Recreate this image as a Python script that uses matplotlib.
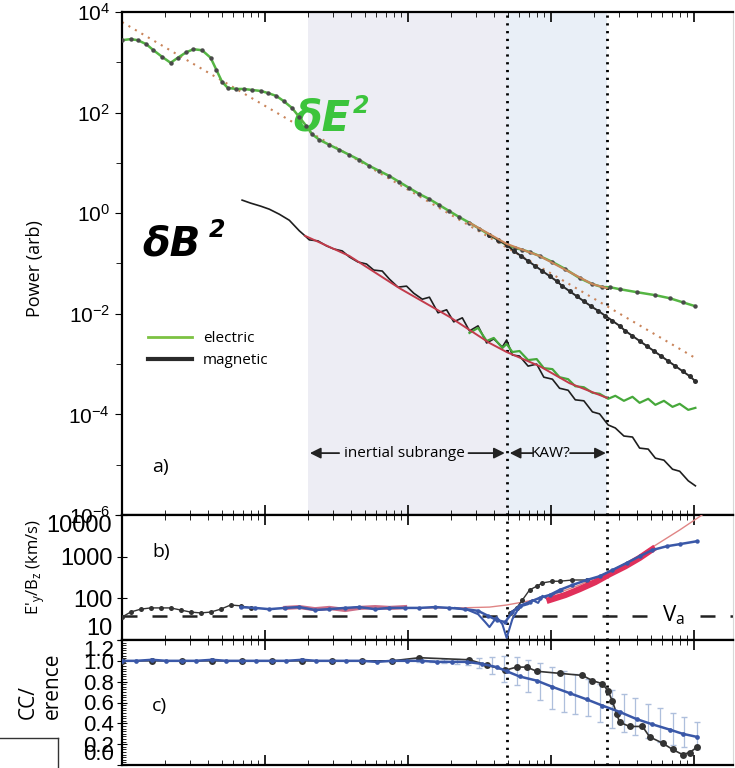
import numpy as np
import matplotlib
matplotlib.use("Agg")
import matplotlib.pyplot as plt
from matplotlib.lines import Line2D
from matplotlib.ticker import FixedLocator, NullFormatter, LogLocator, MultipleLocator

plt.rcParams['font.family'] = ['Liberation Sans', 'DejaVu Sans']

# ---- panel a: log10(frequency Hz), log10(power) ----
e_smooth_lf = [-2.00, -1.94, -1.89, -1.83, -1.78, -1.72, -1.66, -1.61, -1.55, -1.50,
               -1.44, -1.38, -1.34, -1.30, -1.26, -1.20, -1.15, -1.09, -1.03, -0.98,
               -0.92, -0.87, -0.81, -0.76, -0.71, -0.67, -0.62, -0.55, -0.48, -0.41,
               -0.34, -0.27, -0.20, -0.13, -0.06, 0.01, 0.08, 0.15, 0.22, 0.29,
               0.36, 0.43, 0.50, 0.57, 0.64, 0.69, 0.75, 0.80, 0.85, 0.92,
               1.01, 1.10, 1.20, 1.29, 1.36, 1.41, 1.48, 1.60, 1.73, 1.83,
               1.92, 2.01]
e_smooth_lp = [3.44, 3.46, 3.44, 3.36, 3.24, 3.11, 2.99, 3.09, 3.20, 3.26,
               3.24, 3.09, 2.85, 2.61, 2.49, 2.47, 2.47, 2.45, 2.43, 2.39,
               2.33, 2.23, 2.09, 1.91, 1.73, 1.57, 1.46, 1.36, 1.26, 1.16,
               1.06, 0.94, 0.84, 0.74, 0.62, 0.50, 0.38, 0.28, 0.16, 0.04,
               -0.08, -0.19, -0.31, -0.43, -0.55, -0.63, -0.69, -0.73, -0.77, -0.85,
               -0.97, -1.11, -1.29, -1.41, -1.47, -1.47, -1.51, -1.57, -1.63, -1.69,
               -1.77, -1.85]

b_smooth_lf = [0.57, 0.63, 0.69, 0.74, 0.79, 0.84, 0.89, 0.94, 0.99, 1.04,
               1.08, 1.13, 1.18, 1.23, 1.28, 1.33, 1.38, 1.43, 1.48, 1.52,
               1.57, 1.62, 1.67, 1.72, 1.77, 1.82, 1.87, 1.92, 1.97, 2.01]
b_smooth_lp = [-0.43, -0.53, -0.63, -0.75, -0.85, -0.95, -1.05, -1.15, -1.25, -1.35,
               -1.45, -1.55, -1.65, -1.75, -1.85, -1.94, -2.04, -2.14, -2.24, -2.34,
               -2.44, -2.54, -2.64, -2.74, -2.84, -2.94, -3.04, -3.14, -3.24, -3.34]

b_raw_lf = [-1.16, -1.10, -1.03, -0.97, -0.90, -0.83, -0.76, -0.72, -0.69, -0.63,
            -0.57, -0.52, -0.46, -0.41, -0.35, -0.29, -0.24, -0.18, -0.13, -0.07,
            -0.01, 0.04, 0.10, 0.15, 0.21, 0.27, 0.32, 0.38, 0.43, 0.49,
            0.55, 0.60, 0.66, 0.69, 0.73, 0.78, 0.84, 0.90, 0.95, 1.01,
            1.06, 1.12, 1.17, 1.23, 1.29, 1.34, 1.40, 1.45, 1.51, 1.57,
            1.62, 1.68, 1.73, 1.79, 1.85, 1.90, 1.96, 2.01]
b_raw_lp = [0.26, 0.20, 0.14, 0.08, -0.02, -0.14, -0.35, -0.45, -0.53, -0.55,
            -0.65, -0.71, -0.75, -0.87, -0.97, -1.01, -1.13, -1.15, -1.31, -1.47,
            -1.45, -1.59, -1.71, -1.67, -1.98, -1.92, -2.16, -2.08, -2.34, -2.24,
            -2.58, -2.50, -2.66, -2.52, -2.82, -2.84, -3.04, -3.00, -3.26, -3.30,
            -3.48, -3.52, -3.71, -3.73, -3.95, -3.99, -4.21, -4.27, -4.43, -4.45,
            -4.67, -4.69, -4.87, -4.91, -5.09, -5.13, -5.32, -5.42]

e_raw_lf = [0.43, 0.49, 0.55, 0.60, 0.66, 0.69, 0.73, 0.78, 0.84, 0.90,
            0.95, 1.01, 1.06, 1.12, 1.17, 1.23, 1.29, 1.34, 1.40, 1.45,
            1.51, 1.57, 1.62, 1.68, 1.73, 1.79, 1.85, 1.90, 1.96, 2.01]
e_raw_lp = [-2.38, -2.28, -2.54, -2.48, -2.68, -2.60, -2.76, -2.74, -2.92, -2.90,
            -3.08, -3.10, -3.26, -3.30, -3.44, -3.46, -3.57, -3.59, -3.69, -3.63,
            -3.73, -3.65, -3.77, -3.69, -3.81, -3.73, -3.85, -3.79, -3.91, -3.87]

fit_raw_lf = [-0.72, -0.41, -0.06, 0.29, 0.57, 0.69, 0.92, 1.13, 1.39]
fit_raw_lp = [-0.45, -0.85, -1.49, -2.06, -2.58, -2.76, -3.04, -3.38, -3.67]
fit_smooth_lf = [0.43, 0.69, 0.92, 1.13, 1.29, 1.39]
fit_smooth_lp = [-0.19, -0.61, -0.85, -1.17, -1.41, -1.49]
kolmogorov_lf = [-2.00, 2.01]
kolmogorov_lp = [3.80, -2.88]

f_inertial = 0.2
f_break = 4.9
f_kaw = 24.7

# ---- panel b: E'y/Bz (km/s), log10 ----
ratio_black_lf = [-2.00, -1.94, -1.87, -1.80, -1.73, -1.66, -1.59, -1.52, -1.45, -1.38,
                  -1.31, -1.24, -1.17, -1.10, np.nan, 0.71, 0.76, 0.80, 0.85, 0.90,
                  0.94, 1.01, 1.06, 1.15, 1.25]
ratio_black_lv = [1.55, 1.67, 1.74, 1.77, 1.77, 1.77, 1.72, 1.67, 1.65, 1.67,
                  1.74, 1.84, 1.82, 1.77, np.nan, 1.65, 1.77, 1.96, 2.20, 2.29,
                  2.37, 2.41, 2.41, 2.44, 2.44]
ratio_blue_lf = [-1.17, -1.07, -0.97, -0.86, -0.76, -0.65, -0.55, -0.44, -0.34, -0.23,
                 -0.13, -0.02, 0.08, 0.19, 0.29, 0.40, 0.49, 0.56, 0.62, 0.68,
                 0.73, 0.78, 0.85, 0.92, 0.99, 1.06, 1.15, 1.25, 1.34, 1.43,
                 1.53, 1.62, 1.71, 1.81, 1.90, 2.02]
ratio_blue_lv = [1.79, 1.77, 1.74, 1.77, 1.79, 1.72, 1.74, 1.77, 1.79, 1.74,
                 1.77, 1.77, 1.77, 1.79, 1.77, 1.74, 1.70, 1.58, 1.48, 1.43,
                 1.67, 1.82, 1.91, 2.01, 2.08, 2.20, 2.32, 2.44, 2.53, 2.68,
                 2.85, 3.01, 3.16, 3.25, 3.30, 3.37]
ratio_blue2_lf = [0.33, 0.42, 0.49, 0.54, 0.57, 0.62, 0.66, 0.69, 0.73, 0.77,
                  0.80, 0.84, 0.87, 0.91, 0.94, 0.98, 1.03, 1.08]
ratio_blue2_lv = [1.77, 1.72, 1.62, 1.43, 1.31, 1.55, 1.38, 1.05, 1.50, 1.74,
                  1.82, 1.86, 1.96, 1.89, 2.06, 1.98, 2.13, 2.18]
ratio_red_lf = [0.99, 1.10, 1.20, 1.31, 1.41, 1.52, 1.62, 1.71]
ratio_red_lv = [1.96, 2.08, 2.22, 2.39, 2.58, 2.77, 2.97, 3.18]
ratio_red_low_lf = [-0.86, -0.76, -0.65, -0.55, -0.44, -0.34, -0.23, -0.13, -0.02]
ratio_red_low_lv = [1.77, 1.79, 1.74, 1.77, 1.72, 1.77, 1.79, 1.77, 1.79]
ratio_fit_lf = [0.08, 0.36, 0.57, 0.69, 0.85, 1.01, 1.20, 1.39, 1.55, 1.71, 1.90, 2.13]
ratio_fit_lv = [1.77, 1.77, 1.79, 1.84, 1.94, 2.08, 2.32, 2.61, 2.87, 3.23, 3.64, 4.17]
v_alfven = 38

# ---- panel c: coherence ----
coh_blue_lf = [-2.00, -1.90, -1.79, -1.69, -1.58, -1.48, -1.37, -1.27, -1.16, -1.06,
               -0.95, -0.85, -0.74, -0.64, -0.53, -0.43, -0.32, -0.22, -0.11, -0.01,
               0.10, 0.20, 0.31, 0.41, 0.52, 0.62, 0.69, 0.78, 0.90, 1.01,
               1.13, 1.25, 1.36, 1.48, 1.60, 1.71, 1.83, 1.92, 2.02]
coh_blue = [1.00, 1.00, 1.01, 1.00, 1.00, 1.00, 1.01, 1.00, 1.00, 1.00,
            1.00, 1.00, 1.01, 1.00, 1.00, 1.00, 1.00, 0.99, 1.00, 1.00,
            1.00, 0.99, 0.99, 0.99, 0.97, 0.94, 0.90, 0.85, 0.81, 0.75,
            0.69, 0.63, 0.57, 0.51, 0.44, 0.39, 0.34, 0.30, 0.27]
coh_err_lf = [0.08, 0.17, 0.25, 0.34, 0.42, 0.50, 0.59, 0.67, 0.76, 0.84,
              0.92, 1.01, 1.09, 1.17, 1.26, 1.34, 1.43, 1.51, 1.59, 1.68,
              1.76, 1.85, 1.93, 2.02]
coh_err_hi = [1.01, 1.01, 1.02, 1.02, 1.02, 1.03, 1.04, 1.05, 1.04, 1.01,
              0.98, 0.94, 0.90, 0.87, 0.83, 0.78, 0.72, 0.68, 0.64, 0.59,
              0.55, 0.50, 0.46, 0.41]
coh_err_lo = [0.99, 0.99, 0.98, 0.97, 0.96, 0.93, 0.87, 0.80, 0.77, 0.70,
              0.62, 0.54, 0.51, 0.49, 0.47, 0.41, 0.36, 0.32, 0.29, 0.26,
              0.22, 0.19, 0.17, 0.15]
coh_black_lf = [-2.00, -1.79, -1.58, -1.37, -1.16, -0.95, -0.74, -0.53, -0.32, -0.11,
                0.08, 0.43, 0.55, 0.68, 0.76, 0.83, 0.90, 1.06, 1.22, 1.29,
                1.36, 1.40, 1.43, 1.46, 1.48, 1.55, 1.64, 1.69, 1.78, 1.85,
                1.92, 1.97, 2.02]
coh_black = [1.00, 1.00, 1.00, 1.00, 1.00, 1.00, 1.00, 1.00, 1.00, 1.00,
             1.03, 1.01, 0.96, 0.91, 0.94, 0.94, 0.90, 0.88, 0.86, 0.81,
             0.78, 0.71, 0.61, 0.49, 0.41, 0.37, 0.37, 0.27, 0.21, 0.15,
             0.10, 0.12, 0.17]


def f(lf):
    return 10 ** np.array(lf, dtype=float)


GREEN = '#55b543'
DOT = '#4a4a4a'
BLUE = '#3a58a8'
TXT = ['Open Sans', 'DejaVu Sans']

fig = plt.figure(figsize=(7.35, 7.68), dpi=100)
left, width = 122 / 735, 611 / 735
ax_a = fig.add_axes([left, 253 / 768, width, 503 / 768])
ax_b = fig.add_axes([left, 128 / 768, width, 125 / 768])
ax_c = fig.add_axes([left, 3 / 768, width, 125 / 768])

for ax in (ax_a, ax_b, ax_c):
    ax.set_xscale('log')
    ax.set_xlim(0.01, 187.5)
    ax.tick_params(axis='x', which='both', direction='in', top=True, bottom=True,
                   labelbottom=False)
    ax.tick_params(axis='x', which='major', length=7, width=1.2)
    ax.tick_params(axis='x', which='minor', length=3.5)
    for s in ('left', 'top', 'bottom'):
        ax.spines[s].set_linewidth(1.6)
    ax.spines['right'].set_color('#d8d8d8')
    ax.axvline(f_break, color='black', ls=(0, (0.8, 2.0)), lw=2, zorder=1)
    ax.axvline(f_kaw, color='black', ls=(0, (0.8, 2.0)), lw=2, zorder=1)

# ---- panel a ----
ax_a.axvspan(f_inertial, f_break, color='#ededf4', zorder=0, lw=0)
ax_a.axvspan(f_break, f_kaw, color='#e9eff7', zorder=0, lw=0)
ax_a.set_yscale('log')
ax_a.set_ylim(1e-6, 1e4)
ax_a.yaxis.set_major_locator(FixedLocator([1e-6, 1e-4, 1e-2, 1, 1e2, 1e4]))
ax_a.yaxis.set_minor_locator(FixedLocator([1e-5, 1e-3, 1e-1, 1e1, 1e3]))
ax_a.yaxis.set_minor_formatter(NullFormatter())
ax_a.tick_params(axis='y', which='both', direction='out', labelsize=15)
ax_a.tick_params(axis='y', which='major', length=5)
ax_a.tick_params(axis='y', which='minor', length=4)

ax_a.plot(f(kolmogorov_lf), f(kolmogorov_lp), color='#c9845a', lw=1.5,
          ls=(0, (1, 2.6)), zorder=2)
ax_a.plot(f(b_raw_lf), f(b_raw_lp), color='#1e1e1e', lw=1.2, zorder=3)
ax_a.plot(f(e_raw_lf), f(e_raw_lp), color='#46a83a', lw=1.6, zorder=3)
ax_a.plot(f(fit_raw_lf), f(fit_raw_lp), color='#c23b4b', lw=1.4, zorder=4)
ax_a.plot(f(e_smooth_lf), f(e_smooth_lp), color=GREEN, lw=1.8, marker='o', ms=3.2,
          mfc=DOT, mec='none', zorder=4)
ax_a.plot(f(b_smooth_lf), f(b_smooth_lp), color='#2a2a2a', lw=1.4, marker='o', ms=3.6,
          mfc='#2f2f2f', mec='none', zorder=4)
ax_a.plot(f(fit_smooth_lf), f(fit_smooth_lp), color='#c8875a', lw=1.5, zorder=5)

ax_a.set_ylabel('Power (arb)', fontsize=13, family=TXT)
ax_a.yaxis.set_label_coords(-0.128, 0.49)

ax_a.text(0.280, 0.765, 'δE', transform=ax_a.transAxes, fontsize=30, color='#3cc43c',
          fontweight='bold', style='italic', family='DejaVu Sans', va='baseline')
ax_a.text(0.378, 0.800, '2', transform=ax_a.transAxes, fontsize=17, color='#3cc43c',
          fontweight='bold', style='italic', family='DejaVu Sans', va='baseline')
ax_a.text(0.033, 0.515, 'δB', transform=ax_a.transAxes, fontsize=29, color='black',
          fontweight='bold', style='italic', family='DejaVu Sans', va='baseline')
ax_a.text(0.142, 0.552, '2', transform=ax_a.transAxes, fontsize=17, color='black',
          fontweight='bold', style='italic', family='DejaVu Sans', va='baseline')

handles = [Line2D([], [], color='#7cc242', lw=2), Line2D([], [], color='#2a2a2a', lw=3)]
ax_a.legend(handles, ['electric', 'magnetic'], loc='center left',
            bbox_to_anchor=(0.03, 0.329), frameon=False, handlelength=2.9,
            handletextpad=0.7, labelspacing=0.45, borderpad=0,
            prop={'family': TXT, 'size': 11})

ax_a.text(0.049, 0.095, 'a)', transform=ax_a.transAxes, fontsize=14, family=TXT,
          va='center')

y_arr = 1.7e-5
arrow = dict(arrowstyle='-|>', color='#222222', lw=1.3, mutation_scale=16,
             shrinkA=0, shrinkB=0)
ax_a.text(0.94, y_arr, 'inertial subrange', fontsize=11, family=TXT, ha='center',
          va='center')
ax_a.annotate('', xy=(f_inertial * 1.03, y_arr), xytext=(0.33, y_arr), arrowprops=arrow)
ax_a.annotate('', xy=(f_break * 0.97, y_arr), xytext=(2.65, y_arr), arrowprops=arrow)
ax_a.text(9.84, y_arr, 'KAW?', fontsize=11, family=TXT, ha='center', va='center')
ax_a.annotate('', xy=(f_break * 1.05, y_arr), xytext=(7.5, y_arr), arrowprops=arrow)
ax_a.annotate('', xy=(f_kaw * 0.98, y_arr), xytext=(13.6, y_arr), arrowprops=arrow)

# ---- panel b ----
ax_b.set_yscale('log')
ax_b.set_ylim(10, 10000)
ax_b.set_yticks([10, 100, 1000, 10000])
ax_b.set_yticklabels(['10', '100', '1000', '10000'])
ax_b.yaxis.set_minor_locator(LogLocator(base=10, subs=np.arange(2, 10)))
ax_b.yaxis.set_minor_formatter(NullFormatter())
ax_b.tick_params(axis='y', which='major', direction='inout', length=7, labelsize=17)
ax_b.tick_params(axis='y', which='minor', direction='in', length=3)
ax_b.get_yticklabels()[0].set_va('bottom')
ax_b.get_yticklabels()[-1].set_va('top')

ax_b.plot([0.01, 49.2], [v_alfven, v_alfven], color='#222222', lw=1.8,
          ls=(0, (6, 6)), zorder=2)
ax_b.plot([110, 187.5], [v_alfven, v_alfven], color='#222222', lw=1.8,
          ls=(0, (6, 6)), zorder=2)
ax_b.text(0.902, 0.2, r'$\mathregular{V_a}$', transform=ax_b.transAxes, fontsize=16,
          family=TXT, ha='center', va='center')
ax_b.plot(f(ratio_fit_lf), f(ratio_fit_lv), color='#e08585', lw=1.0, zorder=3,
          clip_on=True)
ax_b.plot(f(ratio_black_lf), f(ratio_black_lv), color='#333333', lw=1.0, marker='o',
          ms=3.6, mec='none', zorder=4)
ax_b.plot(f(ratio_red_low_lf), f(ratio_red_low_lv), color='#c04a6a', lw=3, alpha=0.8,
          zorder=4)
ax_b.plot(f(ratio_blue2_lf), f(ratio_blue2_lv), color=BLUE, lw=1.5, zorder=5)
ax_b.plot(f(ratio_red_lf), f(ratio_red_lv), color='#e0305a', lw=4.5, zorder=5)
ax_b.plot(f(ratio_blue_lf), f(ratio_blue_lv), color=BLUE, lw=1.8, marker='o', ms=3.2,
          mec='none', zorder=6)
ax_b.set_ylabel(r"E'$_\mathregular{y}$/B$_\mathregular{z}$ (km/s)", fontsize=12,
                family=TXT)
ax_b.yaxis.set_label_coords(-0.122, 0.58)
ax_b.text(0.049, 0.70, 'b)', transform=ax_b.transAxes, fontsize=14, family=TXT,
          va='center')

# ---- panel c ----
ax_c.set_ylim(0, 1.2)
ax_c.set_yticks(np.arange(0, 1.21, 0.2))
ax_c.set_yticklabels(['0.0', '0.2', '0.4', '0.6', '0.8', '1.0', '1.2'])
ax_c.yaxis.set_minor_locator(MultipleLocator(0.025))
ax_c.tick_params(axis='y', which='major', direction='inout', length=7, labelsize=16,
                 pad=2)
ax_c.tick_params(axis='y', which='minor', direction='in', length=3)
ax_c.get_yticklabels()[0].set_va('bottom')
ax_c.get_yticklabels()[-1].set_va('top')

ax_c.vlines(f(coh_err_lf), coh_err_lo, coh_err_hi, color='#aebfdc', lw=0.9, zorder=2)
ax_c.plot(f(coh_err_lf), coh_err_hi, ls='none', marker='_', ms=4, color='#aebfdc',
          zorder=2)
ax_c.plot(f(coh_err_lf), coh_err_lo, ls='none', marker='_', ms=4, color='#aebfdc',
          zorder=2)
ax_c.plot(f(coh_black_lf), coh_black, color='#333333', lw=1.2, marker='o', ms=5,
          mec='none', zorder=3)
ax_c.plot(f(coh_blue_lf), coh_blue, color=BLUE, lw=1.8, marker='o', ms=3.4,
          mec='none', zorder=4)
ax_c.text(-0.134, 0.632, 'CC/\nerence', transform=ax_c.transAxes, rotation=90,
          fontsize=15, family=TXT, ha='center', va='center', multialignment='left')
ax_c.text(0.049, 0.47, 'c)', transform=ax_c.transAxes, fontsize=14, family=TXT,
          va='center')

# fragment of a neighbouring figure at the bottom-left corner
fig.add_artist(Line2D([0, 58 / 735], [30 / 768, 30 / 768], color='#333333', lw=1))
fig.add_artist(Line2D([58 / 735, 58 / 735], [0, 30 / 768], color='#333333', lw=1))

fig.savefig('out.png', dpi=100, facecolor='white')
